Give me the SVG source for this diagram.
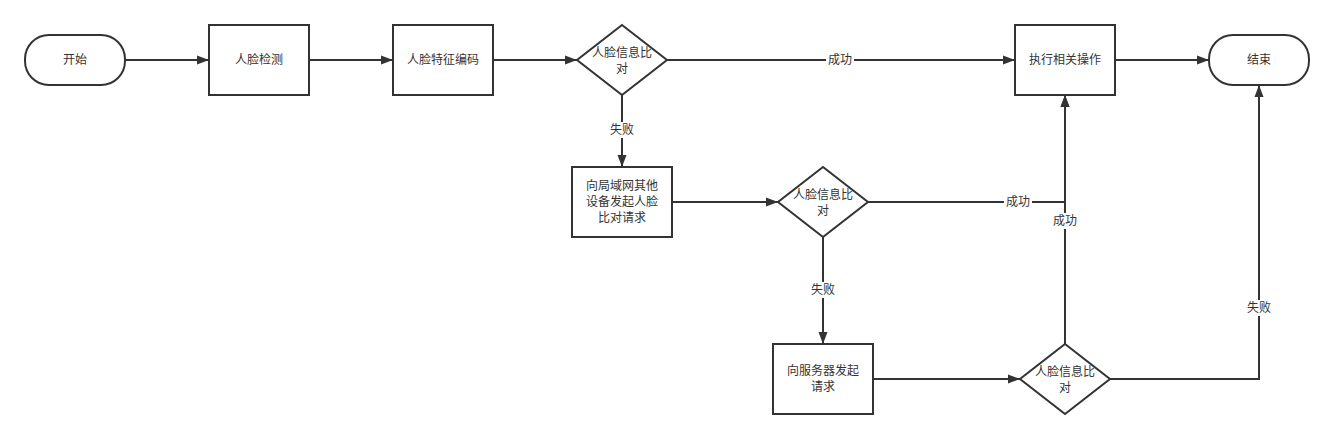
<svg xmlns="http://www.w3.org/2000/svg" width="1334" height="439" viewBox="0 0 1334 439">
<defs>
<marker id="arr" viewBox="0 0 12 10" refX="12" refY="5" markerWidth="12" markerHeight="10" markerUnits="userSpaceOnUse" orient="auto">
<path d="M0,0.5 L12,5 L0,9.5 Z" fill="#333"/>
</marker>
<style>
.shape{fill:#fff;stroke:#333;stroke-width:2}
.edge{fill:none;stroke:#333;stroke-width:2}
text{font-family:"Noto Sans CJK SC","Liberation Sans",sans-serif;font-size:12px;fill:#333;text-anchor:middle}
.lbg{fill:#fff}
</style>
</defs>
<rect width="1334" height="439" fill="#fff"/>
<g id="connectors">
<path class="edge" d="M125,60 L209,60" marker-end="url(#arr)"/>
<path class="edge" d="M309,60 L393,60" marker-end="url(#arr)"/>
<path class="edge" d="M493,60 L577,60" marker-end="url(#arr)"/>
<path class="edge" d="M667,60 L1015,60" marker-end="url(#arr)"/>
<path class="edge" d="M1115,60 L1209,60" marker-end="url(#arr)"/>
<path class="edge" d="M622,95 L622,167" marker-end="url(#arr)"/>
<path class="edge" d="M672,202 L778,202" marker-end="url(#arr)"/>
<path class="edge" d="M868,202 L1065,202 L1065,95" marker-end="url(#arr)"/>
<path class="edge" d="M823,237 L823,344" marker-end="url(#arr)"/>
<path class="edge" d="M873,379 L1020,379" marker-end="url(#arr)"/>
<path class="edge" d="M1065,344 L1065,95" marker-end="url(#arr)"/>
<path class="edge" d="M1110,379 L1259,379 L1259,85" marker-end="url(#arr)"/>
<rect class="lbg" x="826" y="52" width="28" height="16"/>
<text x="840" y="64">成功</text>
<rect class="lbg" x="608" y="122" width="28" height="16"/>
<text x="622" y="134">失败</text>
<rect class="lbg" x="1004" y="194" width="28" height="16"/>
<text x="1018" y="206">成功</text>
<rect class="lbg" x="1051" y="213" width="28" height="16"/>
<text x="1065" y="225">成功</text>
<rect class="lbg" x="809" y="282" width="28" height="16"/>
<text x="823" y="294">失败</text>
<rect class="lbg" x="1245" y="300" width="28" height="16"/>
<text x="1259" y="312">失败</text>
</g>
<g id="start">
<rect class="shape" x="25" y="35" width="100" height="50" rx="24" ry="24"/>
<text x="75" y="64">开始</text>
</g>
<g id="detect">
<rect class="shape" x="209" y="25" width="100" height="70"/>
<text x="259" y="64">人脸检测</text>
</g>
<g id="encode">
<rect class="shape" x="393" y="25" width="100" height="70"/>
<text x="443" y="64">人脸特征编码</text>
</g>
<g id="compare1">
<path class="shape" d="M622,25 L667,60 L622,95 L577,60 Z"/>
<text x="622" y="57">人脸信息比</text>
<text x="622" y="73">对</text>
</g>
<g id="lanRequest">
<rect class="shape" x="572" y="167" width="100" height="70"/>
<text x="622" y="190">向局域网其他</text>
<text x="622" y="206">设备发起人脸</text>
<text x="622" y="222">比对请求</text>
</g>
<g id="compare2">
<path class="shape" d="M823,167 L868,202 L823,237 L778,202 Z"/>
<text x="823" y="199">人脸信息比</text>
<text x="823" y="215">对</text>
</g>
<g id="serverRequest">
<rect class="shape" x="773" y="344" width="100" height="70"/>
<text x="823" y="375">向服务器发起</text>
<text x="823" y="391">请求</text>
</g>
<g id="compare3">
<path class="shape" d="M1065,344 L1110,379 L1065,414 L1020,379 Z"/>
<text x="1065" y="376">人脸信息比</text>
<text x="1065" y="392">对</text>
</g>
<g id="execute">
<rect class="shape" x="1015" y="25" width="100" height="70"/>
<text x="1065" y="64">执行相关操作</text>
</g>
<g id="end">
<rect class="shape" x="1209" y="35" width="100" height="50" rx="24" ry="24"/>
<text x="1259" y="64">结束</text>
</g>
</svg>
